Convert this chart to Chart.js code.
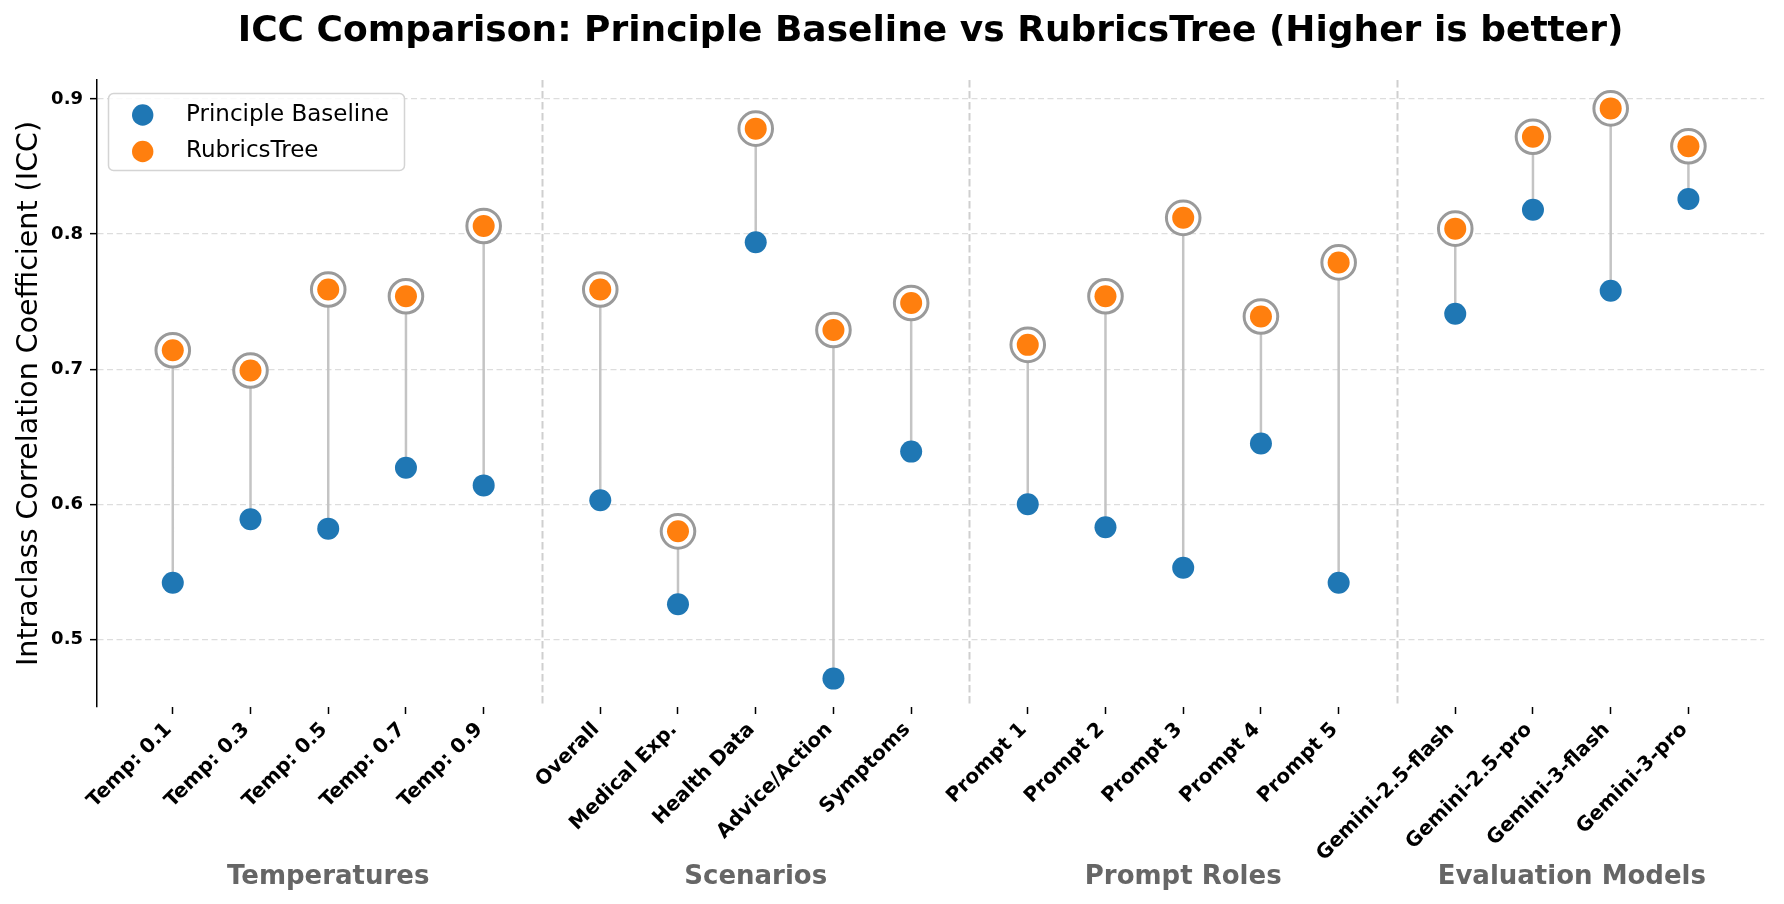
<!DOCTYPE html>
<html>
<head>
<meta charset="utf-8">
<title>ICC Comparison</title>
<script src="https://cdn.jsdelivr.net/npm/chart.js@4.4.1/dist/chart.umd.min.js"></script>
<style>
    html, body { margin: 0; padding: 0; background: #fff; }
    #wrap { width: 1784px; height: 904px; }
</style>
</head>
<body>
<div id="wrap"><canvas id="iccChart" width="1784" height="904"></canvas></div>
<script>
const categories = [
    'Temp: 0.1', 'Temp: 0.3', 'Temp: 0.5', 'Temp: 0.7', 'Temp: 0.9',
    'Overall', 'Medical Exp.', 'Health Data', 'Advice/Action', 'Symptoms',
    'Prompt 1', 'Prompt 2', 'Prompt 3', 'Prompt 4', 'Prompt 5',
    'Gemini-2.5-flash', 'Gemini-2.5-pro', 'Gemini-3-flash', 'Gemini-3-pro'
];
// category slots, groups separated by a half-slot gap
const xPositions = [0, 1, 2, 3, 4, 5.5, 6.5, 7.5, 8.5, 9.5, 11, 12, 13, 14, 15, 16.5, 17.5, 18.5, 19.5];
const baselineICC = [0.542, 0.589, 0.582, 0.627, 0.614, 0.603, 0.526, 0.794, 0.471, 0.639,
    0.600, 0.583, 0.553, 0.645, 0.542, 0.741, 0.818, 0.758, 0.826];
const rubricsICC = [0.714, 0.699, 0.759, 0.754, 0.806, 0.759, 0.580, 0.878, 0.729, 0.749,
    0.718, 0.754, 0.812, 0.739, 0.779, 0.804, 0.872, 0.893, 0.865];
const groupNames = ['Temperatures', 'Scenarios', 'Prompt Roles', 'Evaluation Models'];
const groupSizes = [5, 5, 5, 4];
const groupSeparators = [4.75, 10.25, 15.75];
const yTicks = [0.5, 0.6, 0.7, 0.8, 0.9];

const FONT = "'DejaVu Sans', 'Liberation Sans', sans-serif";

const toPoints = (vals) => xPositions.map((x, i) => ({ x: x, y: vals[i] }));

// segments between the two scores, broken by null
const connectorPoints = [];
xPositions.forEach((x, i) => {
    connectorPoints.push({ x: x, y: baselineICC[i] });
    connectorPoints.push({ x: x, y: rubricsICC[i] });
    connectorPoints.push({ x: x, y: null });
});

// dashed separators between the groups
const separatorPlugin = {
    id: 'separators',
    beforeDatasetsDraw(chart) {
        const { ctx, chartArea, scales } = chart;
        ctx.save();
        ctx.strokeStyle = '#cfcfcf';
        ctx.lineWidth = 2;
        ctx.setLineDash([7.5, 3.5]);
        groupSeparators.forEach(v => {
            const px = Math.round(scales.x.getPixelForValue(v)) + 0.5;
            ctx.beginPath();
            ctx.moveTo(px, chartArea.top);
            ctx.lineTo(px, chartArea.bottom);
            ctx.stroke();
        });
        ctx.restore();
    }
};

// group names under the tick labels
const groupLabelPlugin = {
    id: 'groupLabels',
    afterDraw(chart) {
        const { ctx, scales } = chart;
        ctx.save();
        ctx.font = 'bold 26px ' + FONT;
        ctx.fillStyle = '#666666';
        ctx.textAlign = 'center';
        ctx.textBaseline = 'middle';
        let start = 0;
        groupNames.forEach((name, g) => {
            const members = xPositions.slice(start, start + groupSizes[g]);
            const mid = members.reduce((a, b) => a + b, 0) / members.length;
            ctx.fillText(name, scales.x.getPixelForValue(mid), 877);
            start += groupSizes[g];
        });
        ctx.restore();
    }
};

// framed legend in the upper left of the plot
const legendBoxPlugin = {
    id: 'legendBox',
    afterDatasetsDraw(chart) {
        const { ctx } = chart;
        const items = [chart.data.datasets[1], chart.data.datasets[0]];
        ctx.save();
        ctx.beginPath();
        ctx.roundRect(108.5, 93.5, 296, 77, 5);
        ctx.fillStyle = 'rgba(255,255,255,0.85)';
        ctx.fill();
        ctx.strokeStyle = '#d4d4d4';
        ctx.lineWidth = 1.5;
        ctx.stroke();
        ctx.font = '23px ' + FONT;
        ctx.textBaseline = 'middle';
        ctx.textAlign = 'left';
        items.forEach((ds, i) => {
            const cy = 115 + i * 36.5;
            ctx.beginPath();
            ctx.arc(142.7, cy, 10.7, 0, Math.PI * 2);
            ctx.fillStyle = ds.backgroundColor;
            ctx.fill();
            ctx.fillStyle = '#000';
            ctx.fillText(ds.label, 186, cy);
        });
        ctx.restore();
    }
};

new Chart(document.getElementById('iccChart'), {
    type: 'scatter',
    data: {
        datasets: [
            {
                label: 'RubricsTree',
                data: toPoints(rubricsICC),
                backgroundColor: '#ff7f0e',
                borderWidth: 0,
                pointRadius: 11,
                order: 0
            },
            {
                label: 'Principle Baseline',
                data: toPoints(baselineICC),
                backgroundColor: '#1f77b4',
                borderWidth: 0,
                pointRadius: 11,
                order: 1
            },
            {
                label: 'highlight',
                data: toPoints(rubricsICC),
                backgroundColor: '#ffffff',
                borderColor: '#9a9a9a',
                borderWidth: 3,
                pointRadius: 16.8,
                order: 2
            },
            {
                label: 'gap',
                data: connectorPoints,
                showLine: true,
                spanGaps: false,
                borderColor: '#c4c4c4',
                borderWidth: 2.5,
                pointRadius: 0,
                order: 3
            }
        ]
    },
    options: {
        responsive: false,
        animation: false,
        events: [],
        layout: { padding: { left: 0, right: 12.5, top: 0, bottom: 0 } },
        plugins: {
            legend: { display: false },
            tooltip: { enabled: false },
            title: {
                display: true,
                fullSize: false,
                text: 'ICC Comparison: Principle Baseline vs RubricsTree (Higher is better)',
                color: '#000',
                font: { family: FONT, size: 36, weight: 'bold', lineHeight: 1.2 },
                padding: { top: 10, bottom: 26.8 }
            }
        },
        scales: {
            x: {
                type: 'linear',
                min: -0.975,
                max: 20.475,
                afterBuildTicks: s => { s.ticks = xPositions.map(v => ({ value: v })); },
                afterFit: s => { s.height = 197; },
                ticks: {
                    autoSkip: false,
                    minRotation: 45,
                    maxRotation: 45,
                    padding: 4,
                    labelOffset: -4,
                    color: '#000',
                    font: { family: FONT, size: 20, weight: 'bold' },
                    callback: (v, i) => categories[i]
                },
                grid: {
                    drawOnChartArea: false,
                    drawTicks: true,
                    tickLength: 7,
                    tickWidth: 1.5,
                    tickColor: '#000'
                },
                border: { display: false }
            },
            y: {
                type: 'linear',
                min: 0.45,
                max: 0.914,
                afterBuildTicks: s => { s.ticks = yTicks.map(v => ({ value: v })); },
                afterFit: s => { s.width = 97; },
                ticks: {
                    padding: 7,
                    color: '#000',
                    font: { family: FONT, size: 18, weight: 'bold' },
                    callback: v => v.toFixed(1)
                },
                grid: {
                    color: '#dddddd',
                    lineWidth: 1.3,
                    drawTicks: true,
                    tickLength: 7,
                    tickWidth: 1.5,
                    tickColor: '#000',
                    tickBorderDash: []
                },
                border: { display: true, color: '#000', width: 1.5, dash: [6, 3.5] },
                title: {
                    display: true,
                    text: 'Intraclass Correlation Coefficient (ICC)',
                    color: '#000',
                    font: { family: FONT, size: 28.5, lineHeight: 1.2 },
                    padding: { top: 12, bottom: 0 }
                }
            }
        }
    },
    plugins: [separatorPlugin, groupLabelPlugin, legendBoxPlugin]
});
</script>
</body>
</html>
